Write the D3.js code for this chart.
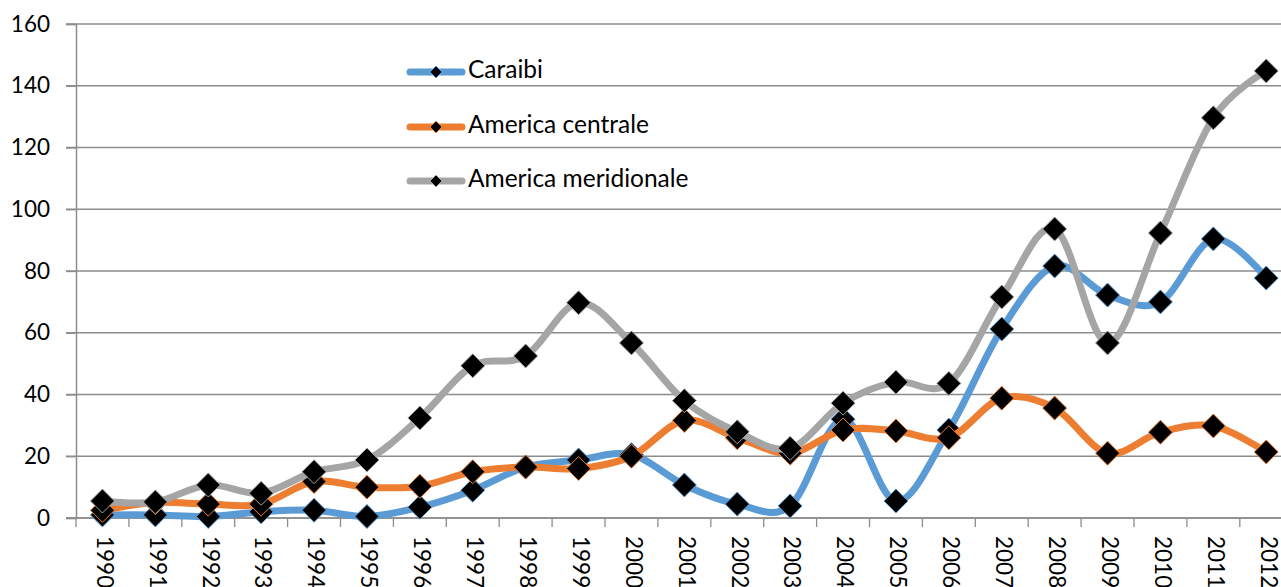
<!DOCTYPE html>
<html>
<head>
<meta charset="utf-8">
<script src="https://cdn.jsdelivr.net/npm/d3@7"></script>
<style>
  body { margin: 0; background: #fff; overflow: hidden; }
  text { font-family: Lato, "Liberation Sans", sans-serif; fill: #000; }
</style>
</head>
<body>
<svg id="chart" width="1281" height="587"></svg>
<script>
const years = ["1990","1991","1992","1993","1994","1995","1996","1997","1998","1999","2000","2001",
  "2002","2003","2004","2005","2006","2007","2008","2009","2010","2011","2012"];
const caraibi = [1, 1, 0.5, 2, 2.5, 0.5, 3.5, 9, 16.5, 18.8, 20.5, 10.7,
  4.5, 3.9, 32, 5.5, 28.5, 61.2, 81.6, 72.2, 70, 90.4, 77.7];
const centrale = [2.5, 5, 4.5, 4.5, 11.8, 10, 10.3, 15, 16.5, 16, 20, 31.6,
  26, 21, 28.5, 28.2, 26, 38.8, 35.6, 21, 27.8, 29.8, 21.4];
const meridionale = [5.5, 5.2, 10.7, 8, 15, 18.8, 32.4, 49.3, 52.5, 69.7, 56.7, 38,
  27.9, 22.6, 37.2, 44, 43.6, 71.6, 93.6, 56.7, 92.3, 129.6, 144.8];
const yTicks = [0, 20, 40, 60, 80, 100, 120, 140, 160];
const seriesNames = ["Caraibi", "America centrale", "America meridionale"];
const seriesColors = ["#5b9bd5", "#ed7d31", "#a5a5a5"];

const svg = d3.select("#chart");
const plotLeft = 76, plotTop = 24, plotBottom = 518, step = 52.9;
const plotRight = plotLeft + step * years.length;

const x = d3.scaleBand().domain(years).range([plotLeft, plotRight]);
const y = d3.scaleLinear().domain([0, 160]).range([plotBottom, plotTop]);

// gridlines
svg.append("g")
  .selectAll("line")
  .data(yTicks)
  .enter()
  .append("line")
  .attr("x1", plotLeft - 10)
  .attr("x2", plotRight)
  .attr("y1", d => y(d))
  .attr("y2", d => y(d))
  .attr("stroke", "#8c8c8c")
  .attr("stroke-width", 1.3);

// y axis
const yAxis = svg.append("g")
  .attr("transform", "translate(" + plotLeft + ",0)")
  .call(d3.axisLeft(y).tickValues(yTicks).tickSize(10).tickPadding(16));
yAxis.select(".domain").attr("stroke", "#8c8c8c").attr("stroke-width", 1.5);
yAxis.selectAll(".tick line").attr("stroke", "#8c8c8c").attr("stroke-width", 1.3);
yAxis.selectAll("text").style("font-size", "22.5px").style("font-family", "Lato, sans-serif").attr("fill", "#000");

// x axis
const xAxis = svg.append("g");
xAxis.append("line")
  .attr("x1", plotLeft - 10).attr("x2", plotRight)
  .attr("y1", plotBottom).attr("y2", plotBottom)
  .attr("stroke", "#8c8c8c").attr("stroke-width", 1.5);
xAxis.selectAll("line.tk")
  .data(years)
  .enter()
  .append("line")
  .attr("class", "tk")
  .attr("x1", d => x(d)).attr("x2", d => x(d))
  .attr("y1", plotBottom).attr("y2", plotBottom + 9)
  .attr("stroke", "#8c8c8c").attr("stroke-width", 1.3);
xAxis.selectAll("text")
  .data(years)
  .enter()
  .append("text")
  .attr("transform", d => "translate(" + (x(d) + x.bandwidth() / 2) + "," + (plotBottom + 18) + ") rotate(90)")
  .attr("dominant-baseline", "middle")
  .style("font-size", "22.5px")
  .text(d => d);

// series
const line = d3.line()
  .x((d, i) => x(years[i]) + x.bandwidth() / 2)
  .y(d => y(d))
  .curve(d3.curveCatmullRom.alpha(0));

const diamond = (cx, cy, r) => "M" + cx + "," + (cy - r) + "L" + (cx + r) + "," + cy +
  "L" + cx + "," + (cy + r) + "L" + (cx - r) + "," + cy + "Z";

[caraibi, centrale, meridionale].forEach((vals, si) => {
  const g = svg.append("g");
  g.append("path")
    .datum(vals)
    .attr("d", line)
    .attr("fill", "none")
    .attr("stroke", seriesColors[si])
    .attr("stroke-width", 7)
    .attr("stroke-linecap", "round");
  g.selectAll("path.mk")
    .data(vals)
    .enter()
    .append("path")
    .attr("class", "mk")
    .attr("d", (d, i) => diamond(x(years[i]) + x.bandwidth() / 2, y(d), 12))
    .attr("fill", "#000")
    .attr("stroke", seriesColors[si])
    .attr("stroke-width", 1);
});

// legend
const legendY = [72, 127, 181];
const leg = svg.append("g");
seriesNames.forEach((name, i) => {
  leg.append("line")
    .attr("x1", 410).attr("x2", 462)
    .attr("y1", legendY[i]).attr("y2", legendY[i])
    .attr("stroke", seriesColors[i])
    .attr("stroke-width", 7)
    .attr("stroke-linecap", "round");
  leg.append("path")
    .attr("d", diamond(436, legendY[i], 6))
    .attr("fill", "#000")
    .attr("stroke", seriesColors[i])
    .attr("stroke-width", 1);
  leg.append("text")
    .attr("x", 468)
    .attr("y", legendY[i])
    .attr("dominant-baseline", "middle")
    .style("font-size", "24.5px")
    .text(name);
});
</script>
</body>
</html>
